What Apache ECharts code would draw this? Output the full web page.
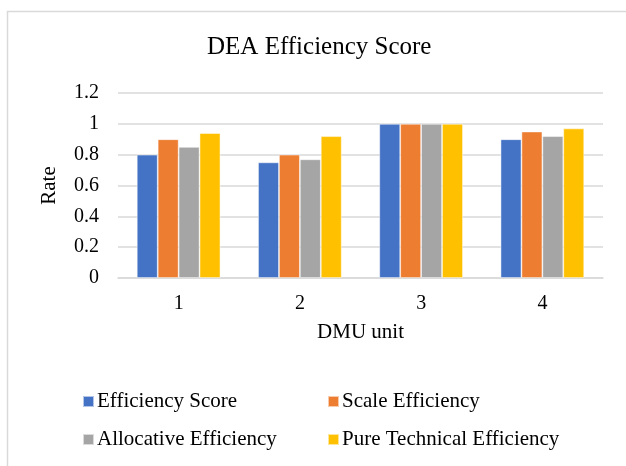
<!DOCTYPE html>
<html>
<head>
<meta charset="utf-8">
<script src="https://cdn.jsdelivr.net/npm/echarts@6/dist/echarts.min.js"></script>
<style>html,body{margin:0;padding:0;background:#fff}#c{width:626px;height:466px}</style>
</head>
<body>
<div id="c"></div>
<script>
var categories = ['1', '2', '3', '4'];
var efficiencyScore = [0.80, 0.75, 1.00, 0.90];
var scaleEfficiency = [0.90, 0.80, 1.00, 0.95];
var allocativeEfficiency = [0.85, 0.77, 1.00, 0.92];
var pureTechnicalEfficiency = [0.94, 0.92, 1.00, 0.97];
var yTicks = [0, 0.2, 0.4, 0.6, 0.8, 1, 1.2];

var font = '"Liberation Serif", "Times New Roman", serif';
var chart = echarts.init(document.getElementById('c'), null, {renderer: 'canvas'});
function bar(name, data, color) {
  return {
    name: name, type: 'bar', data: data, barGap: '0%', barCategoryGap: '31%',
    itemStyle: {color: color, borderColor: 'rgba(255,255,255,0.6)', borderWidth: 0.8},
    emphasis: {disabled: true}
  };
}
chart.setOption({
  animation: false,
  textStyle: {fontFamily: font},
  graphic: [{
    type: 'rect', left: 5, top: 9, shape: {x: 0, y: 0, width: 640, height: 480},
    style: {fill: 'none', stroke: '#d9d9d9', lineWidth: 1.5}, silent: true
  }],
  title: {
    text: 'DEA Efficiency Score', left: 202, top: 30,
    textStyle: {fontFamily: font, fontSize: 25, fontWeight: 'normal', color: '#000'}
  },
  grid: {left: 118, right: 23, top: 93, bottom: 188, containLabel: false},
  legend: [{
    data: ['Efficiency Score', 'Allocative Efficiency'],
    orient: 'vertical', left: 82, top: 391, padding: 0, itemWidth: 11, itemHeight: 11, itemGap: 17,
    icon: 'rect', textStyle: {fontFamily: font, fontSize: 21, color: '#000', padding: [0,0,0,-2]}
  }, {
    data: ['Scale Efficiency', 'Pure Technical Efficiency'],
    orient: 'vertical', left: 327, top: 391, padding: 0, itemWidth: 11, itemHeight: 11, itemGap: 17,
    icon: 'rect', textStyle: {fontFamily: font, fontSize: 21, color: '#000', padding: [0,0,0,-2]}
  }],
  xAxis: {
    type: 'category', data: categories,
    name: 'DMU unit', nameLocation: 'middle', nameGap: 44,
    nameTextStyle: {fontFamily: font, fontSize: 21, color: '#000'},
    axisLine: {lineStyle: {color: '#d9d9d9', width: 1.5}},
    axisTick: {show: false},
    axisLabel: {fontFamily: font, fontSize: 20, color: '#000', margin: 16}
  },
  yAxis: {
    type: 'value', min: 0, max: 1.2, interval: 0.2,
    name: 'Rate', nameLocation: 'middle', nameGap: 58, nameRotate: 90,
    nameTextStyle: {fontFamily: font, fontSize: 21, color: '#000'},
    axisLine: {show: false}, axisTick: {show: false},
    splitLine: {lineStyle: {color: '#d9d9d9', width: 1.5}},
    axisLabel: {fontFamily: font, fontSize: 20, color: '#000', margin: 19,
      formatter: function (v) { var r = Math.round(v * 10) / 10; return yTicks.indexOf(r) >= 0 ? String(r) : ''; }}
  },
  series: [
    bar('Efficiency Score', efficiencyScore, '#4472C4'),
    bar('Scale Efficiency', scaleEfficiency, '#ED7D31'),
    bar('Allocative Efficiency', allocativeEfficiency, '#A5A5A5'),
    bar('Pure Technical Efficiency', pureTechnicalEfficiency, '#FFC000')
  ]
});
</script>
</body>
</html>
